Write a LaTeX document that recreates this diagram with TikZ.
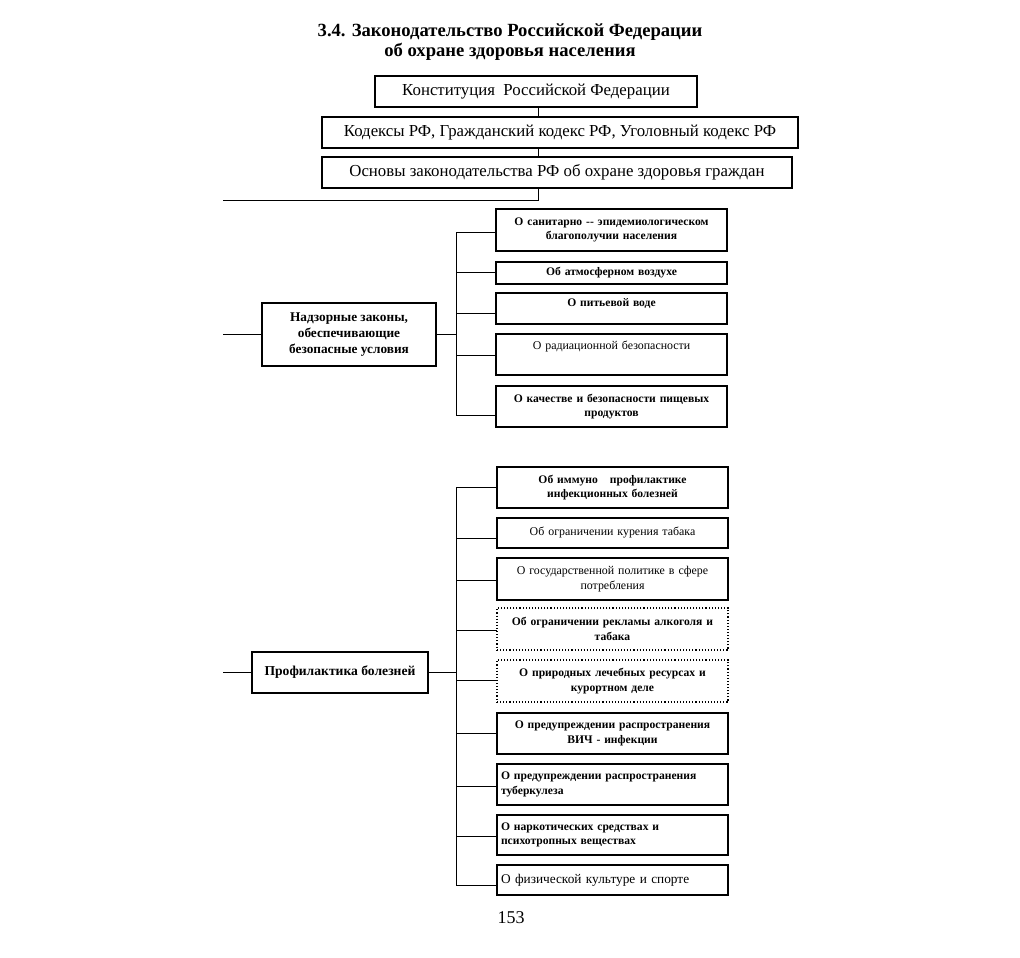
\documentclass[tikz,border=0pt]{standalone}
\usepackage{fontspec}
\setmainfont{Liberation Serif}
\begin{document}
\begin{tikzpicture}[x=1pt,y=-1pt,
  every node/.style={inner sep=0pt, outer sep=0pt},
  topbox/.style={draw, line width=2.3pt, anchor=north west, font=\fontsize{16.8}{19}\selectfont},
  grpbox/.style={draw, line width=2.3pt, anchor=north west, align=center, font=\bfseries\fontsize{13.3}{16}\selectfont},
  lawbox/.style={draw, line width=1.1pt, anchor=north west, minimum width=231pt, text width=223pt, align=center, font=\fontsize{11.9}{14.5}\selectfont},
  lawdot/.style={lawbox, dotted},
  leftal/.style={align=left},
  bd/.style={font=\bfseries\fontsize{11.6}{14.5}\selectfont},
  conn/.style={line width=1pt},
]
\useasboundingbox (0,0) rectangle (1020,958);

\node[font=\bfseries\fontsize{18.6}{20}\selectfont, align=center] (title) at (510,42)
  {3.4. Законодательство Российской Федерации\\об охране здоровья населения};

\node[topbox, minimum width=322pt, minimum height=31pt] (konst) at (375,76) {Конституция\ \ Российской Федерации};
\node[topbox, minimum width=476pt, minimum height=31pt] (kod) at (322,117) {Кодексы РФ, Гражданский кодекс РФ, Уголовный кодекс РФ};
\node[topbox, minimum width=470pt, minimum height=31pt] (osn) at (322,157) {Основы законодательства РФ об охране здоровья граждан};

\coordinate (vx) at (538,0);
\coordinate (mainL) at (223,200);
\draw[conn] (vx |- konst.south) -- (vx |- kod.north);
\draw[conn] (vx |- kod.south) -- (vx |- osn.north);
\draw[conn] (vx |- osn.south) |- (mainL);

% Section 1
\node[grpbox, minimum width=174pt, minimum height=63pt] (nadz) at (262,303) {Надзорные законы,\\обеспечивающие\\безопасные условия};
\coordinate (in1) at (223,0);
\coordinate (bus) at (456,0);
\draw[conn] (nadz.west) -- (nadz.west -| in1);
\draw[conn] (nadz.east) -- (nadz.east -| bus);

\node[lawbox, bd, minimum height=42pt] (b1) at (496,209) {О санитарно -{}- эпидемиологическом\\благополучии населения};
\node[lawbox, bd, minimum height=22pt] (b2) at (496,262) {Об атмосферном воздухе};
\node[lawbox, bd, minimum height=31pt] (b3) at (496,293) {О питьевой воде\\[-7pt]\strut};
\node[lawbox, minimum height=41pt] (b4) at (496,334) {О радиационной безопасности\\\strut};
\node[lawbox, bd, minimum height=41pt] (b5) at (496,386) {О качестве и безопасности пищевых\\продуктов};

\coordinate (p1) at (456,232);
\coordinate (p2) at (456,272);
\coordinate (p3) at (456,313);
\coordinate (p4) at (456,355);
\coordinate (p5) at (456,415);
\draw[conn] (p1) -- (p5);
\draw[conn] (p1) -- (p1 -| b1.west);
\draw[conn] (p2) -- (p2 -| b2.west);
\draw[conn] (p3) -- (p3 -| b3.west);
\draw[conn] (p4) -- (p4 -| b4.west);
\draw[conn] (p5) -- (p5 -| b5.west);

% Section 2
\node[grpbox, minimum width=176pt, minimum height=41pt, font=\bfseries\fontsize{13.6}{16}\selectfont] (prof) at (252,652) {Профилактика болезней};
\draw[conn] (prof.west) -- (prof.west -| in1);
\draw[conn] (prof.east) -- (prof.east -| bus);

\node[lawbox, bd, minimum height=41pt] (c1) at (497,467) {Об иммуно\hspace{12pt}профилактике\\инфекционных болезней};
\node[lawbox, minimum height=30pt] (c2) at (497,518) {Об ограничении курения табака};
\node[lawbox, minimum height=42pt] (c3) at (497,558) {О государственной политике в сфере\\потребления};
\node[lawdot, bd, minimum height=42pt] (c4) at (497,608) {Об ограничении рекламы алкоголя и\\табака};
\node[lawdot, bd, minimum height=42pt] (c5) at (497,660) {О природных лечебных ресурсах и\\курортном деле};
\node[lawbox, bd, minimum height=41pt] (c6) at (497,713) {О предупреждении распространения\\ВИЧ - инфекции};
\node[lawbox, bd, leftal, minimum height=41pt] (c7) at (497,764) {О предупреждении распространения\\туберкулеза};
\node[lawbox, bd, leftal, minimum height=40pt] (c8) at (497,815) {О наркотических средствах и\\психотропных веществах};
\node[lawbox, leftal, minimum height=30pt, font=\fontsize{13.3}{15}\selectfont] (c9) at (497,865) {О физической культуре и спорте};

\coordinate (q1) at (456,487);
\coordinate (q2) at (456,538);
\coordinate (q3) at (456,580);
\coordinate (q4) at (456,630);
\coordinate (q5) at (456,680);
\coordinate (q6) at (456,733);
\coordinate (q7) at (456,786);
\coordinate (q8) at (456,836);
\coordinate (q9) at (456,885);
\draw[conn] (q1) -- (q9);
\draw[conn] (q1) -- (q1 -| c1.west);
\draw[conn] (q2) -- (q2 -| c2.west);
\draw[conn] (q3) -- (q3 -| c3.west);
\draw[conn] (q4) -- (q4 -| c4.west);
\draw[conn] (q5) -- (q5 -| c5.west);
\draw[conn] (q6) -- (q6 -| c6.west);
\draw[conn] (q7) -- (q7 -| c7.west);
\draw[conn] (q8) -- (q8 -| c8.west);
\draw[conn] (q9) -- (q9 -| c9.west);

\node[font=\fontsize{18}{20}\selectfont] (pg) at (511,918) {153};
\end{tikzpicture}
\end{document}
